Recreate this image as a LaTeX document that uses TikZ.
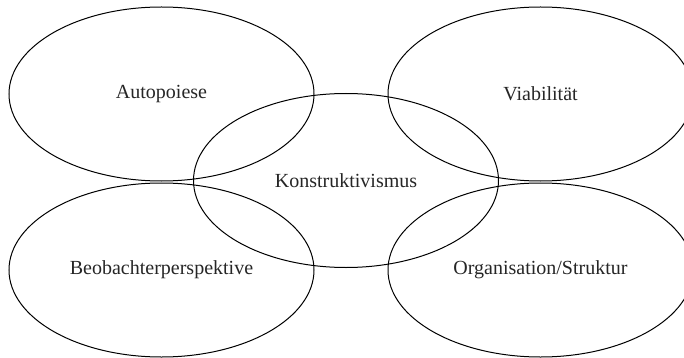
\documentclass[tikz,border=0pt]{standalone}
\usepackage{fontspec}
\setmainfont{Liberation Serif}
\usetikzlibrary{shapes.geometric}
\tikzset{
  field/.style={draw=black, line width=1pt, ellipse, minimum width=305pt, minimum height=174pt, inner sep=0pt,
    font=\fontsize{20}{23}\selectfont, text=black!85}
}
\begin{document}
\begin{tikzpicture}[x=1pt,y=-1pt]
\useasboundingbox (0,0) rectangle (684,358);
\clip (0,0) rectangle (684,358);
\fill[white] (0,0) rectangle (684,358);
\node[field] (auto) at (161.5,94) {Autopoiese};
\node[field] (viab) at (540.5,94) {Viabilität};
\node[field] (kons) at (346,180.5) {Konstruktivismus};
\node[field] (beob) at (161.5,270) {Beobachterperspektive};
\node[field] (orga) at (540.5,270) {Organisation/Struktur};
\end{tikzpicture}
\end{document}
